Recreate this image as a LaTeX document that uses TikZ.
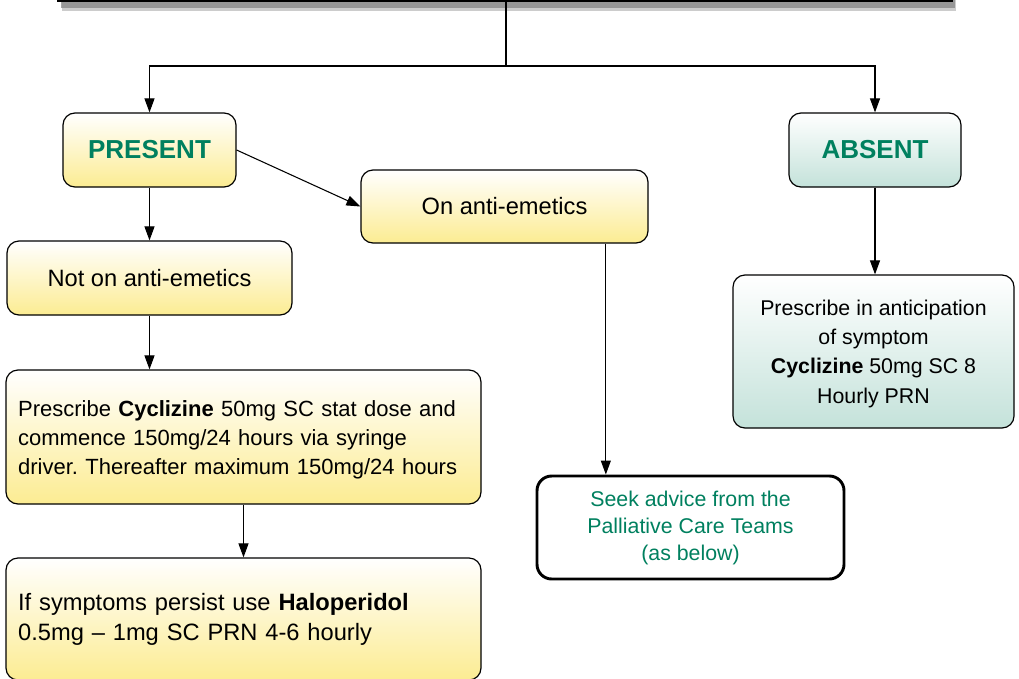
\documentclass[tikz,border=0pt]{standalone}
\usepackage{fontspec}
\setmainfont{Liberation Sans}
\frenchspacing
\usetikzlibrary{calc,positioning,arrows.meta,shadows}
\definecolor{textgreen}{HTML}{00805F}
\definecolor{boxyellow}{HTML}{FCEC92}
\definecolor{boxteal}{HTML}{C4E2DA}
\definecolor{headteal}{HTML}{A6DCCB}
\tikzset{
>={Triangle[length=10.5pt,width=7.5pt]},
  yellowbox/.style={
    rectangle, 
    rounded corners=9pt, 
    top color=white,
    bottom color=boxyellow,
    draw=black, line width=0.9pt,
    inner sep=0pt, 
    align=center,
    font=\fontsize{17.75}{21.75}\selectfont},
  tealbox/.style={yellowbox, bottom color=boxteal},
  headline/.style={font=\fontsize{19.5}{23}\selectfont\bfseries, text=textgreen},
  advicebox/.style={
    rectangle,
    rounded corners=11pt,
    fill=white,
    draw=black, line width=2.2pt,
    align=center,
    text=textgreen,
    font=\fontsize{16}{20.25}\selectfont},
  line/.style={draw, line width=0.8pt, ->},
}
\begin{document}
\begin{tikzpicture}[x=0.75pt, y=-0.75pt]
		\useasboundingbox (0,0) rectangle (1019,678);
		% cut-off question box at the top
		\node[draw=black, line width=1.5pt, fill=headteal, minimum width=670.5pt, minimum height=31.5pt,
			drop shadow={shadow xshift=3pt, shadow yshift=-7.5pt, opacity=.4},
			drop shadow={shadow xshift=2pt, shadow yshift=-5pt, opacity=.7}, anchor=south]
			(question) at (505,2) {};
		
		\node[yellowbox, headline, minimum width=129.75pt, minimum height=55.5pt] (present) at (149.5,150) {PRESENT};
		\node[tealbox, headline, minimum width=129pt, minimum height=55.5pt] (absent) at (875,150) {ABSENT};
		
		\node[yellowbox, minimum width=215.25pt, minimum height=54.75pt] (on-anti) at (504.5,206.5) {On anti-emetics};
		\node[yellowbox, minimum width=213.75pt, minimum height=55.5pt] (not-on-anti) at (149.5,278) {Not on anti-emetics};
		
		\node[yellowbox, align=left, text width=338pt, minimum width=356.25pt, minimum height=100.5pt,
			font=\fontsize{16.5}{21.75}\selectfont]
			(cyclizine) at (243.5,437)
			{\rule{0pt}{16.5pt}Prescribe \textbf{Cyclizine} 50mg SC stat dose and\\
			commence 150mg/24 hours via syringe\\
			driver. Thereafter maximum 150mg/24 hours};
		\node[yellowbox, align=left, text width=338pt, minimum width=356.25pt, minimum height=91.5pt,
			font=\fontsize{17.75}{22.5}\selectfont]
			(haloperidol) at (243.5,619)
			{If symptoms persist use \textbf{Haloperidol}\\
			0.5mg – 1mg SC PRN 4-6 hourly};
		
		\node[advicebox, minimum width=230.25pt, minimum height=77.25pt] (seek-advice) at (690.5,527.5)
			{Seek advice from the\\ Palliative Care Teams\\ (as below)};
		\node[tealbox, minimum width=210.75pt, minimum height=114.75pt, font=\fontsize{16}{22}\selectfont,
			text depth=0pt]
			(anticipation) at (873.5,351.5)
			{Prescribe in anticipation\\ of symptom\\ \textbf{Cyclizine} 50mg SC 8\\ Hourly PRN};
		
		\coordinate (split) at (506,66);
		\draw[line width=0.8pt] (question.south -| split) -- (split);
		\draw[line] (split) -| (present.north);
		\draw[line] (split) -| (absent.north);
		\draw[line] (present.east) -- (on-anti.west);
		\draw[line] (present.south) -- (not-on-anti.north);
		\draw[line] (not-on-anti.south) -- (not-on-anti.south |- cyclizine.north);
		\draw[line] (cyclizine.south) -- (haloperidol.north);
		\draw[line] ([xshift=76pt]on-anti.south) -- ([xshift=76pt]on-anti.south |- seek-advice.north);
		\draw[line] (absent.south) -- (absent.south |- anticipation.north);
	\end{tikzpicture}
\end{document}
